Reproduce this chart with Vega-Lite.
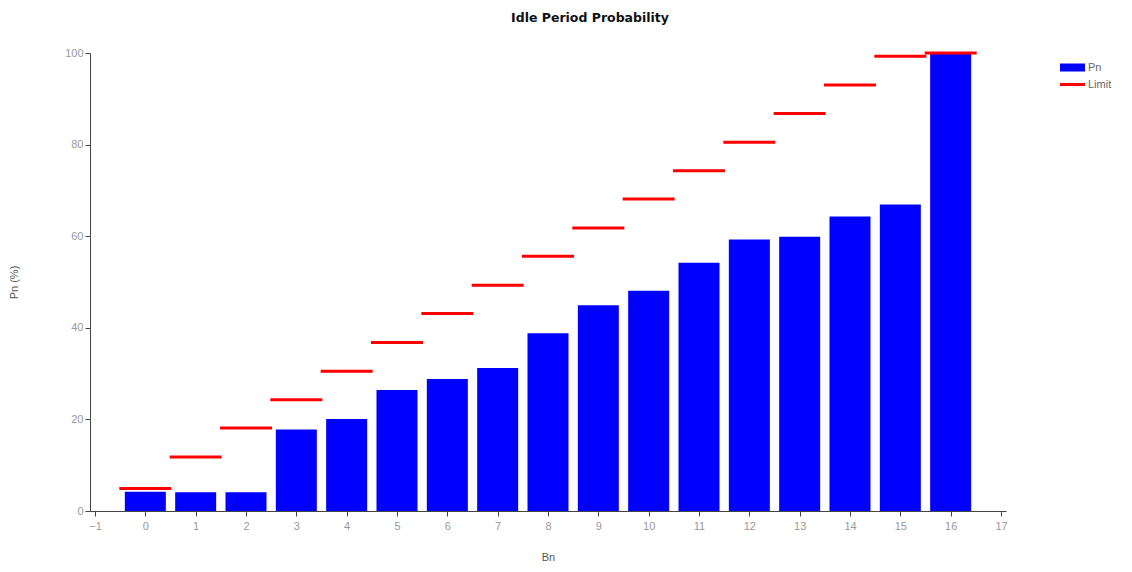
{
  "$schema": "https://vega.github.io/schema/vega-lite/v6.json",
  "width": 916,
  "height": 458,
  "autosize": {"type": "none"},
  "padding": {"left": 90, "top": 53, "right": 126, "bottom": 61},
  "background": "white",
  "title": {"text": "Idle Period Probability", "font": "DejaVu Sans", "fontSize": 12.5, "fontWeight": "bold", "color": "#111", "offset": 23, "anchor": "middle", "dx": 42},
  "config": {
    "view": {"stroke": null},
    "font": "Liberation Sans",
    "axis": {"grid": false, "domainColor": "#444", "tickColor": "#444", "labelColor": "#999", "labelFont": "Liberation Sans", "labelFontSize": 11, "titleFont": "Liberation Sans", "titleFontSize": 11, "titleFontWeight": "normal", "titleColor": "#555", "tickSize": 5}
  },
  "data": {"values": [
    {"Bn": 0, "Pn": 4.2, "Limit": 4.9},
    {"Bn": 1, "Pn": 4.1, "Limit": 11.8},
    {"Bn": 2, "Pn": 4.1, "Limit": 18.1},
    {"Bn": 3, "Pn": 17.8, "Limit": 24.3},
    {"Bn": 4, "Pn": 20.1, "Limit": 30.5},
    {"Bn": 5, "Pn": 26.4, "Limit": 36.8},
    {"Bn": 6, "Pn": 28.8, "Limit": 43.1},
    {"Bn": 7, "Pn": 31.2, "Limit": 49.3},
    {"Bn": 8, "Pn": 38.8, "Limit": 55.6},
    {"Bn": 9, "Pn": 44.9, "Limit": 61.8},
    {"Bn": 10, "Pn": 48.1, "Limit": 68.1},
    {"Bn": 11, "Pn": 54.2, "Limit": 74.3},
    {"Bn": 12, "Pn": 59.3, "Limit": 80.5},
    {"Bn": 13, "Pn": 59.9, "Limit": 86.8},
    {"Bn": 14, "Pn": 64.3, "Limit": 93.0},
    {"Bn": 15, "Pn": 66.9, "Limit": 99.3},
    {"Bn": 16, "Pn": 100, "Limit": 100}
  ]},
  "encoding": {
    "x": {"field": "Bn", "type": "quantitative", "scale": {"domain": [-1, 17], "nice": false, "zero": false},
      "axis": {"values": [-1,0,1,2,3,4,5,6,7,8,9,10,11,12,13,14,15,16,17], "title": "Bn", "titlePadding": 20, "labelPadding": 4}}
  },
  "layer": [
    {
      "mark": {"type": "bar", "width": 41, "color": "#0000ff"},
      "encoding": {
        "y": {"field": "Pn", "type": "quantitative", "scale": {"domain": [0, 100], "nice": false}, "axis": {"values": [0,20,40,60,80,100], "title": "Pn (%)", "titlePadding": 45}},
        "color": {"datum": "Pn", "type": "nominal", "scale": {"domain": ["Pn", "Limit"], "range": ["#0000ff", "#ff0000"]},
          "legend": {"title": null, "orient": "none", "legendX": 977, "legendY": 9, "labelColor": "#666", "labelFontSize": 11, "symbolSize": 625, "labelOffset": 10, "rowPadding": 5,
            "encode": {"symbols": {"update": {
              "shape": {"signal": "datum.value === 'Pn' ? 'M-1,-0.32H1V0.32H-1Z' : 'M-1,0H1'"},
              "fill": {"signal": "datum.value === 'Pn' ? '#0000ff' : 'transparent'"},
              "stroke": {"signal": "datum.value === 'Pn' ? 'transparent' : '#ff0000'"},
              "strokeWidth": {"signal": "datum.value === 'Pn' ? 0 : 3"},
              "opacity": {"value": 1}}}}}}
      }
    },
    {
      "mark": {"type": "tick", "orient": "horizontal", "size": 52, "thickness": 3, "color": "#ff0000", "opacity": 1},
      "encoding": {
        "y": {"field": "Limit", "type": "quantitative"},
        "color": {"datum": "Limit", "type": "nominal"}
      }
    }
  ]
}
